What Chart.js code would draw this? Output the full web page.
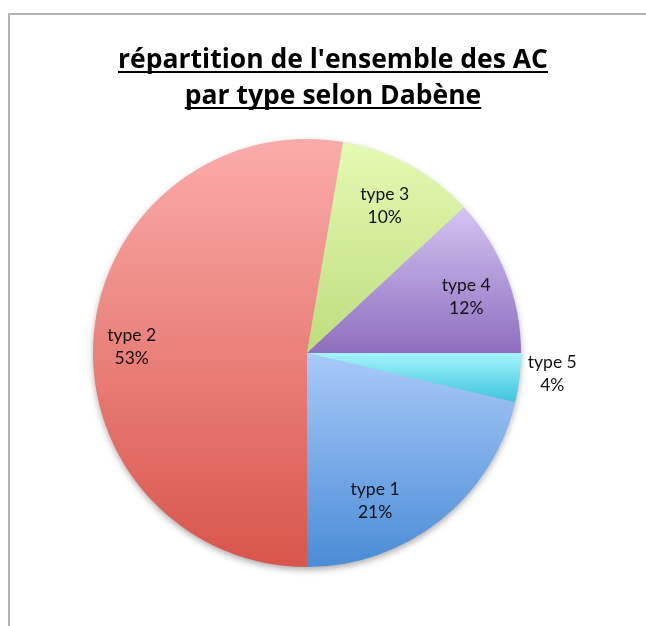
<!DOCTYPE html>
<html>
<head>
<meta charset="utf-8">
<script src="https://cdn.jsdelivr.net/npm/chart.js@4.4.0/dist/chart.umd.min.js"></script>
<style>
html,body{margin:0;padding:0;background:#fff;}
#wrap{width:646px;height:626px;position:relative;}
</style>
</head>
<body>
<div id="wrap"><canvas id="c" width="646" height="626"></canvas></div>
<script>
// ---- data ----
const categories = ['type 1', 'type 2', 'type 3', 'type 4', 'type 5'];
const values = [21.3, 52.7, 10.4, 11.9, 3.7];
const titleLines = ["répartition de l'ensemble des AC", "par type selon Dabène"];

// ---- style ----
const gradTop = ['#a8caf9', '#fbacaa', '#e4fab2', '#d4c4f2', '#a4f4fc'];
const gradBottom = ['#4a8cd6', '#d8554a', '#bedd7e', '#8e6ebe', '#3cc4dc'];
// label placement: [radius factor, angle offset in degrees]
const labelLayout = [[0.76, 13.6], [0.82, -2.6], [0.78, -0.7], [0.79, 1.8], [1.15, -2.0]];

const total = values.reduce((a, b) => a + b, 0);

const framePlugin = {
  id: 'frame',
  beforeDraw(chart) {
    const ctx = chart.ctx;
    ctx.save();
    ctx.fillStyle = '#fff';
    ctx.fillRect(0, 0, chart.width, chart.height);
    ctx.strokeStyle = '#b4b4b4';
    ctx.lineWidth = 2;
    ctx.beginPath();
    ctx.moveTo(9, chart.height + 5);
    ctx.lineTo(9, 14);
    ctx.lineTo(chart.width + 5, 14);
    ctx.stroke();
    // title
    ctx.fillStyle = '#000';
    ctx.font = 'bold 26px "Open Sans", Lato, sans-serif';
    ctx.textAlign = 'left';
    ctx.textBaseline = 'alphabetic';
    const cx = 333;
    const bases = [68, 104];
    const sx = 430 / ctx.measureText(titleLines[0]).width;
    titleLines.forEach((t, i) => {
      const w = ctx.measureText(t).width * sx;
      ctx.save();
      ctx.translate(cx - w / 2, bases[i]);
      ctx.scale(sx, 1);
      ctx.fillText(t, 0, 0);
      ctx.restore();
      ctx.fillRect(cx - w / 2, bases[i] + 3, w, 2);
    });
    ctx.restore();
  },
  beforeDatasetsDraw(chart) {
    const meta = chart.getDatasetMeta(0);
    const ctx = chart.ctx;
    if (!meta.data.length) return;
    const a0 = meta.data[0];
    // shadow
    ctx.save();
    ctx.shadowColor = 'rgba(0,0,0,0.35)';
    ctx.shadowBlur = 7;
    ctx.shadowOffsetY = 3;
    ctx.fillStyle = '#bbb';
    ctx.beginPath();
    ctx.arc(a0.x, a0.y, a0.outerRadius - 0.5, 0, Math.PI * 2);
    ctx.fill();
    ctx.restore();
    // gradients per slice (vertical over slice extent)
    meta.data.forEach((arc, i) => {
      const s = arc.startAngle, e = arc.endAngle, R = arc.outerRadius;
      const ys = [arc.y, arc.y + R * Math.sin(s), arc.y + R * Math.sin(e)];
      for (let k = -4; k <= 4; k++) {
        const ang = Math.PI / 2 + k * Math.PI;
        if (ang > s && ang < e) ys.push(arc.y + R * Math.sin(ang));
      }
      const y0 = Math.min(...ys), y1 = Math.max(...ys);
      const g = ctx.createLinearGradient(0, y0, 0, y1);
      g.addColorStop(0, gradTop[i]);
      g.addColorStop(1, gradBottom[i]);
      arc.options.backgroundColor = g;
    });
  },
  afterDatasetsDraw(chart) {
    const meta = chart.getDatasetMeta(0);
    const ctx = chart.ctx;
    ctx.save();
    ctx.fillStyle = '#111';
    ctx.font = '17.5px Lato, "Open Sans", sans-serif';
    ctx.textAlign = 'center';
    ctx.textBaseline = 'middle';
    meta.data.forEach((arc, i) => {
      const mid = (arc.startAngle + arc.endAngle) / 2 + labelLayout[i][1] * Math.PI / 180;
      const r = arc.outerRadius * labelLayout[i][0];
      const x = arc.x + r * Math.cos(mid);
      const y = arc.y + r * Math.sin(mid);
      const pct = Math.round(values[i] / total * 100) + '%';
      ctx.fillText(categories[i], x, y - 11);
      ctx.fillText(pct, x, y + 12);
    });
    ctx.restore();
  }
};

new Chart(document.getElementById('c'), {
  type: 'pie',
  data: {
    labels: categories,
    datasets: [{
      data: values,
      backgroundColor: gradTop,
      borderWidth: 0
    }]
  },
  options: {
    responsive: false,
    animation: false,
    rotation: 180 - values[0] / total * 360,
    layout: { padding: { left: 93, right: 125, top: 139, bottom: 59 } },
    plugins: {
      legend: { display: false },
      title: { display: false },
      tooltip: { enabled: false }
    }
  },
  plugins: [framePlugin]
});
</script>
</body>
</html>
